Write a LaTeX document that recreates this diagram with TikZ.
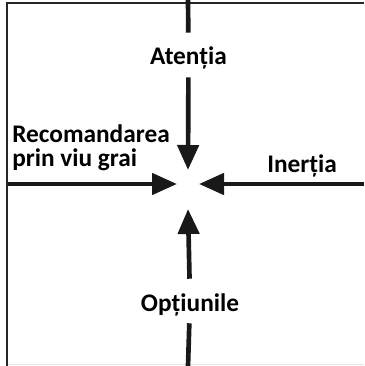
\documentclass[tikz,border=0pt]{standalone}
\usepackage{fontspec}
\setmainfont{Carlito}
\usepackage{tikz}
\usetikzlibrary{positioning,arrows.meta}
\tikzset{px grid/.style={x=0.75pt, y=-0.75pt}}
\tikzset{lbl/.style={font=\fontsize{19}{18}\selectfont\bfseries, inner xsep=2pt, inner ysep=4pt, text height=20pt, text depth=5pt}}
\tikzset{lbl2/.style={font=\fontsize{19}{18}\selectfont\bfseries, inner sep=0pt, align=left}}
\tikzset{bar/.style={draw=black!90, line width=3.5pt}}
\tikzset{arr/.style={bar, -{Triangle[length=18.75pt, width=15.75pt]}}}
\tikzset{frame/.style={draw=black!85, line width=1.5pt}}

\begin{document}
\begin{tikzpicture}[px grid]
                \useasboundingbox (0,0) rectangle (364,366);
                \draw[frame] (364,3) -- (7,3) -- (7,366);
                \draw[gray!20, line width=0.8pt] (8,364.5) -- (364,364.5);
                %
                \coordinate (top) at (188,0);
                \coordinate (bottom) at (188,366);
                \coordinate (left) at (7.5,184);
                \coordinate (right) at (364,184);
                \coordinate (tipN) at (188,170);
                \coordinate (tipS) at (188,209);
                \coordinate (tipW) at (177,184);
                \coordinate (tipE) at (199,184);
                %
                \node[lbl, anchor=base] (atentia) at (188.5,65) {Atenția};
                \node[lbl, anchor=base] (optiunile) at (190,311) {Opțiunile};
                \node[lbl2, anchor=base west] (recomandarea) at (12,167) {Recomandarea\\prin viu grai};
                \node[lbl2, anchor=base west] (inertia) at (267,173) {Inerția};
                %
                \draw[bar] (top) -- (atentia);
                \draw[arr] (atentia) -- (tipN);
                \draw[bar] (bottom) -- (optiunile);
                \draw[arr] (optiunile) -- (tipS);
                \draw[arr] (left) -- (tipW);
                \draw[arr] (right) -- (tipE);
                %
            \end{tikzpicture}
\end{document}
